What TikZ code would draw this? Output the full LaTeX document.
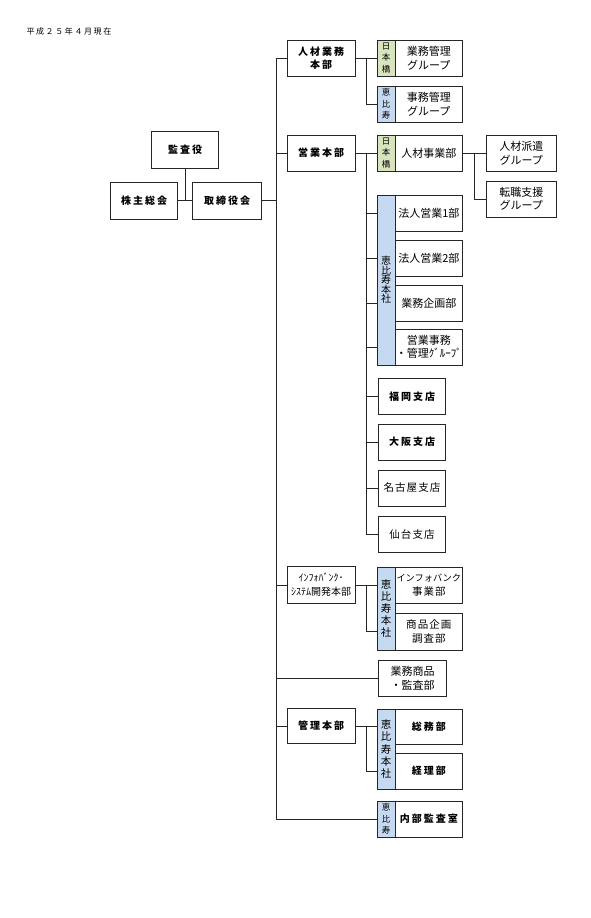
\documentclass[tikz,border=0pt]{standalone}
\usepackage{fontspec}
\usetikzlibrary{calc}
\newfontfamily\jp{Noto Sans CJK JP}
\newfontfamily\jpsp[LetterSpace=20]{Noto Sans CJK JP}
\newfontfamily\jpwide[LetterSpace=10]{Noto Sans CJK JP}
\definecolor{tagG}{RGB}{215,228,189}
\definecolor{tagB}{RGB}{197,217,241}
\tikzset{
  box/.style={draw=black!85, line width=0.8pt, fill=white, inner sep=0pt,
    minimum width=67.7pt, minimum height=36pt, align=center,
    font=\jp\fontsize{11}{13.5}\selectfont},
  widebox/.style={box, font=\jpwide\fontsize{10.5}{13.5}\selectfont},
  boldbox/.style={box, font=\jpsp\bfseries\fontsize{10}{13.5}\selectfont},
  tagbox/.style={draw=black!85, line width=0.8pt, inner sep=0pt,
    minimum width=17.7pt, minimum height=36pt, align=center,
    font=\jp\fontsize{8.5}{11.5}\selectfont},
  tagG/.style={tagbox, fill=tagG},
  tagB/.style={tagbox, fill=tagB},
  link/.style={draw=black!85, line width=0.8pt}
}
\begin{document}
\begin{tikzpicture}[x=1pt,y=-1pt]
\useasboundingbox (0,0) rectangle (591,918);
\node[anchor=west, font=\jpsp\fontsize{8}{8}\selectfont] (date) at (23,31) {平成２５年４月現在};
\node[boldbox, minimum width=66.5pt, minimum height=36.5pt] (kansa) at (185,150) {監査役};
\node[boldbox, minimum height=37pt] (kabu) at (144,200.5) {株主総会};
\node[boldbox, minimum width=69pt, minimum height=37pt] (tori) at (227.2,200.5) {取締役会};
\node[boldbox, minimum width=68pt] (jinzai) at (321,58) {人材業務\\本部};
\node[tagG] (nb1) at (386.2,58) {日\\本\\橋};
\node[box] (gkanri) at (428.8,58) {業務管理\\グループ};
\node[tagB] (eb1) at (386.2,104) {恵\\比\\寿};
\node[box] (jkanri) at (428.8,104) {事務管理\\グループ};
\node[boldbox, minimum width=68pt] (eigyo) at (321,153) {営業本部};
\node[tagG] (nb2) at (386.2,153) {日\\本\\橋};
\node[box] (jjigyo) at (428.8,153) {人材事業部};
\node[box, minimum width=70.7pt] (haken) at (521.3,153) {人材派遣\\グループ};
\node[box, minimum width=70.7pt] (tenshoku) at (521.3,199) {転職支援\\グループ};
\node[tagB, minimum height=170pt, font=\jp\fontsize{10}{9.5}\selectfont] (eb2) at (386.2,280) {恵\\比\\寿\\本\\社};
\node[box] (hojin1) at (428.8,213) {法人営業1部};
\node[box] (hojin2) at (428.8,258) {法人営業2部};
\node[box] (kikaku) at (428.8,303) {業務企画部};
\node[box] (jimu) at (428.8,347) {営業事務\\・管理ｸﾞﾙｰﾌﾟ};
\node[boldbox, minimum width=67.4pt] (fukuoka) at (412,396.3) {福岡支店};
\node[boldbox, minimum width=67.4pt] (osaka) at (412,442.2) {大阪支店};
\node[widebox, minimum width=67.4pt] (nagoya) at (412,488) {名古屋支店};
\node[widebox, minimum width=67.4pt] (sendai) at (412,534.2) {仙台支店};
\node[box, minimum width=68pt, minimum height=36.6pt, font=\jp\fontsize{10}{14}\selectfont] (info) at (321,585) {ｲﾝﾌｫﾊﾞﾝｸ･\\ｼｽﾃﾑ開発本部};
\node[tagB, minimum height=83pt, font=\jp\fontsize{10.5}{12}\selectfont] (eb3) at (386.2,608.5) {恵\\比\\寿\\本\\社};
\node[box, minimum height=36.6pt, font=\jp\fontsize{9.2}{13.5}\selectfont] (ib) at (428.8,585.3) {インフォバンク\\{\jpwide\fontsize{10.5}{13.5}\selectfont 事業部}};
\node[widebox, minimum height=37pt] (shohin) at (428.8,631.5) {商品企画\\調査部};
\node[box, minimum width=68.4pt, minimum height=36.7pt] (gyomu) at (412.5,678.3) {業務商品\\・監査部};
\node[boldbox, minimum width=68pt, minimum height=35.5pt] (kanri) at (321,726) {管理本部};
\node[tagB, minimum height=80pt, font=\jp\fontsize{10.5}{12}\selectfont] (eb4) at (386.2,749) {恵\\比\\寿\\本\\社};
\node[boldbox, minimum height=35.5pt] (somu) at (428.8,726.7) {総務部};
\node[boldbox] (keiri) at (428.8,771) {経理部};
\node[tagB] (eb5) at (386.2,819) {恵\\比\\寿};
\node[boldbox] (naibu) at (428.8,819) {内部監査室};
\coordinate (trunk) at (276,0);
\coordinate (sub) at (366.7,0);
\coordinate (sub2) at (474,0);
\draw[link] (kabu.east) -- (tori.west);
\draw[link] (kansa.south) -- (kansa.south |- tori.west);
\draw[link] (tori.east) -- (trunk |- tori.east);
\draw[link] (jinzai.west) -| (trunk |- eb5.west) -- (eb5.west);
\draw[link] (eigyo.west) -- (trunk |- eigyo.west);
\draw[link] (info.west) -- (trunk |- info.west);
\draw[link] (gyomu.west) -- (trunk |- gyomu.west);
\draw[link] (kanri.west) -- (trunk |- kanri.west);
\draw[link] (jinzai.east) -- (nb1.west);
\draw[link] (sub |- nb1.west) |- (eb1.west);
\draw[link] (eigyo.east) -- (nb2.west);
\draw[link] (sub |- nb2.west) |- (sendai.west);
\draw[link] (sub |- hojin1) -- (eb2.west |- hojin1);
\draw[link] (sub |- hojin2) -- (eb2.west |- hojin2);
\draw[link] (sub |- kikaku) -- (eb2.west |- kikaku);
\draw[link] (sub |- jimu) -- (eb2.west |- jimu);
\draw[link] (sub |- fukuoka.west) -- (fukuoka.west);
\draw[link] (sub |- osaka.west) -- (osaka.west);
\draw[link] (sub |- nagoya.west) -- (nagoya.west);
\draw[link] (jjigyo.east) -- (haken.west);
\draw[link] (sub2 |- haken.west) |- (tenshoku.west);
\draw[link] (info.east) -- (eb3.west |- info.east);
\draw[link] (sub |- info.east) |- (eb3.west |- shohin);
\draw[link] (kanri.east) -- (eb4.west |- kanri.east);
\draw[link] (sub |- kanri.east) |- (eb4.west |- keiri);
\end{tikzpicture}
\end{document}
